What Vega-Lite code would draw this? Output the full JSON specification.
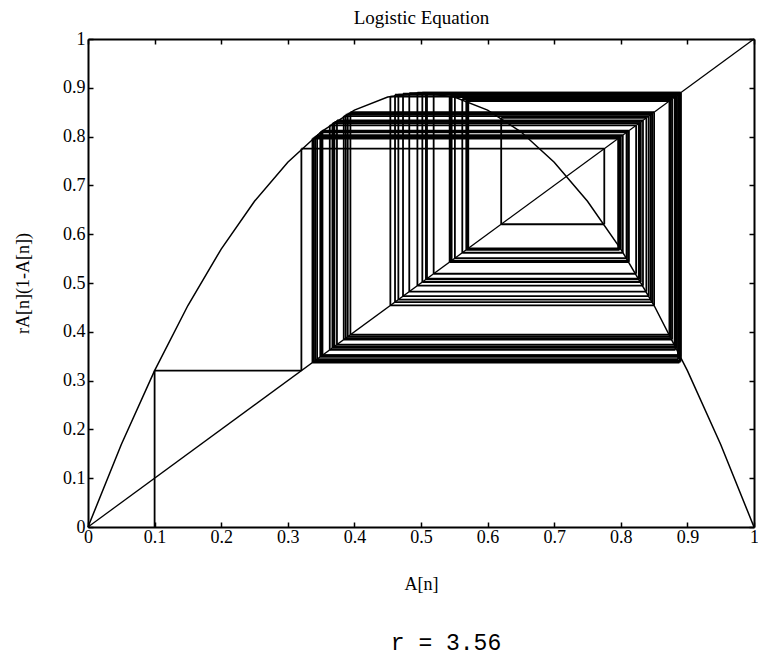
{
  "$schema": "https://vega.github.io/schema/vega-lite/v6.json",
  "width": 666,
  "height": 488,
  "autosize": {"type": "none"},
  "padding": {"left": 88, "top": 39, "right": 4, "bottom": 130},
  "background": "white",
  "title": {"text": "r = 3.56", "orient": "bottom", "font": "Liberation Mono", "fontSize": 23, "fontWeight": "normal", "color": "black", "dx": 25, "offset": 39},
  "config": {
    "view": {"stroke": null},
    "axis": {
      "format": ".1~f",
      "grid": false,
      "labelFont": "Liberation Serif",
      "labelFontSize": 18,
      "labelColor": "black",
      "labelOverlap": false,
      "labelFlush": false,
      "labelBound": false,
      "labelPadding": 6,
      "tickColor": "black",
      "tickSize": -5,
      "tickWidth": 1.5,
      "domainColor": "black",
      "domainWidth": 2,
      "titleFont": "Liberation Serif",
      "titleFontSize": 18,
      "titleFontWeight": "normal",
      "titleColor": "black"
    }
  },
  "datasets": {
    "curve": [
      {"a": 0, "b": 0}, {"a": 0.05, "b": 0.1691}, {"a": 0.1, "b": 0.3204}, {"a": 0.15, "b": 0.4539},
      {"a": 0.2, "b": 0.5696}, {"a": 0.25, "b": 0.6675}, {"a": 0.3, "b": 0.7476}, {"a": 0.35, "b": 0.8099},
      {"a": 0.4, "b": 0.8544}, {"a": 0.45, "b": 0.8811}, {"a": 0.5, "b": 0.89}, {"a": 0.55, "b": 0.8811},
      {"a": 0.6, "b": 0.8544}, {"a": 0.65, "b": 0.8099}, {"a": 0.7, "b": 0.7476}, {"a": 0.75, "b": 0.6675},
      {"a": 0.8, "b": 0.5696}, {"a": 0.85, "b": 0.4539}, {"a": 0.9, "b": 0.3204}, {"a": 0.95, "b": 0.1691},
      {"a": 1, "b": 0}
    ],
    "diag": [{"a": 0, "b": 0}, {"a": 1, "b": 1}],
    "web": [
      {"a": 0.1, "b": 0},
      {"a": 0.1, "b": 0.3204},
      {"a": 0.3204, "b": 0.7752},
      {"a": 0.7752, "b": 0.6204},
      {"a": 0.6204, "b": 0.8384},
      {"a": 0.8384, "b": 0.4824},
      {"a": 0.4824, "b": 0.8889},
      {"a": 0.8889, "b": 0.3516},
      {"a": 0.3516, "b": 0.8116},
      {"a": 0.8116, "b": 0.5444},
      {"a": 0.5444, "b": 0.883},
      {"a": 0.883, "b": 0.3679},
      {"a": 0.3679, "b": 0.8278},
      {"a": 0.8278, "b": 0.5074},
      {"a": 0.5074, "b": 0.8898},
      {"a": 0.8898, "b": 0.339},
      {"a": 0.339, "b": 0.798},
      {"a": 0.798, "b": 0.568},
      {"a": 0.568, "b": 0.875},
      {"a": 0.875, "b": 0.387},
      {"a": 0.387, "b": 0.845},
      {"a": 0.845, "b": 0.466},
      {"a": 0.466, "b": 0.886},
      {"a": 0.886, "b": 0.344},
      {"a": 0.344, "b": 0.803},
      {"a": 0.803, "b": 0.562},
      {"a": 0.562, "b": 0.877},
      {"a": 0.877, "b": 0.384},
      {"a": 0.384, "b": 0.842},
      {"a": 0.842, "b": 0.473},
      {"a": 0.473, "b": 0.888},
      {"a": 0.888, "b": 0.337},
      {"a": 0.337, "b": 0.796},
      {"a": 0.796, "b": 0.571},
      {"a": 0.571, "b": 0.874},
      {"a": 0.874, "b": 0.39},
      {"a": 0.39, "b": 0.847},
      {"a": 0.847, "b": 0.461},
      {"a": 0.461, "b": 0.886},
      {"a": 0.886, "b": 0.352},
      {"a": 0.352, "b": 0.812},
      {"a": 0.812, "b": 0.543},
      {"a": 0.543, "b": 0.883},
      {"a": 0.883, "b": 0.367},
      {"a": 0.367, "b": 0.827},
      {"a": 0.827, "b": 0.509},
      {"a": 0.509, "b": 0.8897},
      {"a": 0.8897, "b": 0.341},
      {"a": 0.341, "b": 0.8},
      {"a": 0.8, "b": 0.57},
      {"a": 0.57, "b": 0.873},
      {"a": 0.873, "b": 0.394},
      {"a": 0.394, "b": 0.85},
      {"a": 0.85, "b": 0.454},
      {"a": 0.454, "b": 0.882},
      {"a": 0.882, "b": 0.363},
      {"a": 0.363, "b": 0.823},
      {"a": 0.823, "b": 0.519},
      {"a": 0.519, "b": 0.889},
      {"a": 0.889, "b": 0.351},
      {"a": 0.351, "b": 0.811},
      {"a": 0.811, "b": 0.546},
      {"a": 0.546, "b": 0.882},
      {"a": 0.882, "b": 0.37},
      {"a": 0.37, "b": 0.83},
      {"a": 0.83, "b": 0.502},
      {"a": 0.502, "b": 0.8899},
      {"a": 0.8899, "b": 0.3488},
      {"a": 0.3488, "b": 0.8086},
      {"a": 0.8086, "b": 0.5509},
      {"a": 0.5509, "b": 0.8808},
      {"a": 0.8808, "b": 0.3738},
      {"a": 0.3738, "b": 0.8333},
      {"a": 0.8333, "b": 0.4946},
      {"a": 0.4946, "b": 0.8899}
    ]
  },
  "layer": [
    {
      "data": {"name": "curve"},
      "mark": {"type": "line", "color": "black", "strokeWidth": 1.5},
      "encoding": {
        "x": {"field": "a", "type": "quantitative", "scale": {"domain": [0, 1], "nice": false, "zero": false},
              "axis": {"orient": "bottom", "title": "A[n]", "titlePadding": 29,
                       "values": [0, 0.1, 0.2, 0.3, 0.4, 0.5, 0.6, 0.7, 0.8, 0.9, 1]}},
        "y": {"field": "b", "type": "quantitative", "scale": {"domain": [0, 1], "nice": false, "zero": false},
              "axis": {"orient": "left", "title": "rA[n](1-A[n])", "titlePadding": 30, "labelPadding": 8,
                       "values": [0, 0.1, 0.2, 0.3, 0.4, 0.5, 0.6, 0.7, 0.8, 0.9, 1]}}
      }
    },
    {
      "data": {"name": "diag"},
      "mark": {"type": "line", "color": "black", "strokeWidth": 1.3},
      "encoding": {
        "x": {"field": "a", "type": "quantitative",
              "axis": {"orient": "top", "labels": false, "title": "Logistic Equation", "titleFontSize": 19, "titlePadding": 11,
                       "values": [0, 0.1, 0.2, 0.3, 0.4, 0.5, 0.6, 0.7, 0.8, 0.9, 1]}},
        "y": {"field": "b", "type": "quantitative",
              "axis": {"orient": "right", "labels": false, "title": null,
                       "values": [0, 0.1, 0.2, 0.3, 0.4, 0.5, 0.6, 0.7, 0.8, 0.9, 1]}}
      }
    },
    {
      "data": {"name": "web"},
      "mark": {"type": "rule", "color": "black", "strokeWidth": 1.8},
      "encoding": {
        "x": {"field": "a", "type": "quantitative", "axis": null},
        "y": {"field": "a", "type": "quantitative", "axis": null},
        "y2": {"field": "b"}
      }
    },
    {
      "data": {"name": "web"},
      "transform": [{"filter": "datum.b > 0"}],
      "mark": {"type": "rule", "color": "black", "strokeWidth": 1.8},
      "encoding": {
        "x": {"field": "a", "type": "quantitative", "axis": null},
        "x2": {"field": "b"},
        "y": {"field": "b", "type": "quantitative", "axis": null}
      }
    }
  ],
  "resolve": {"axis": {"x": "independent", "y": "independent"}}
}
